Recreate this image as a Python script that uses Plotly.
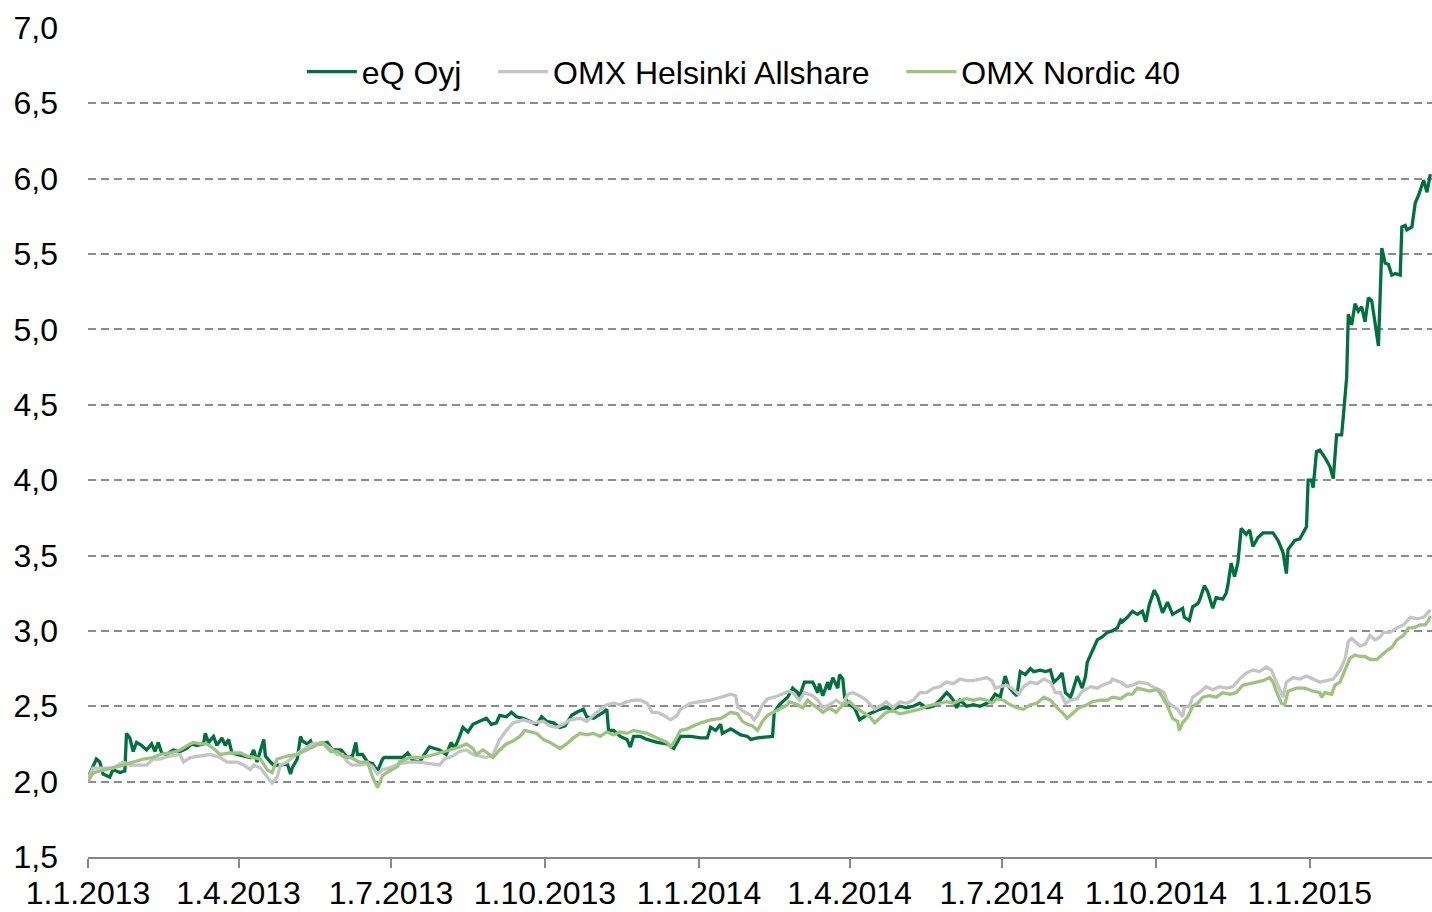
import pandas as pd
import plotly.graph_objects as go

START = "2013-01-01"

# day offsets from 1.1.2013 and index values
eq_day = [0,1,5,7,9,13,15,19,22,23,25,27,29,32,35,38,40,42,44,47,
          51,55,59,62,65,69,70,72,75,77,80,82,84,86,89,93,97,99,101,105,
          106,109,111,115,119,121,122,125,127,128,131,133,134,139,143,146,151,152,155,158,
          160,161,164,167,170,173,176,177,188,191,194,198,204,210,214,217,219,222,224,227,
          230,234,238,241,244,246,250,253,256,260,264,268,271,274,278,282,285,289,292,296,
          298,302,308,310,311,314,318,322,324,326,330,334,340,346,350,354,358,360,366,370,
          372,375,378,379,384,387,390,394,396,400,406,409,410,413,418,421,424,425,428,433,
          436,437,439,442,443,445,448,449,451,452,455,458,461,465,469,473,477,481,485,489,
          493,497,501,505,509,513,515,517,519,521,525,529,533,535,539,542,545,548,550,553,
          555,557,560,563,565,569,572,575,577,580,582,584,587,588,591,594,596,597,600,603,
          606,609,612,615,617,618,621,624,627,630,632,634,637,639,642,645,648,651,654,655,
          658,660,663,664,667,669,672,674,678,680,681,683,685,687,689,692,694,696,699,702,
          708,711,714,716,717,721,724,726,728,729,731,732,734,736,739,742,744,746,749,750,
          752,753,755,757,759,761,763,765,767,769,771,773,775,777,779,781,784,785,787,788,
          791,793,795,798,800,802]
eq_val = [2.00,2.05,2.15,2.13,2.05,2.03,2.08,2.06,2.07,2.32,2.29,2.20,2.26,2.24,2.21,2.25,2.20,2.26,2.19,2.18,
          2.21,2.20,2.22,2.25,2.24,2.25,2.32,2.26,2.30,2.24,2.29,2.24,2.28,2.19,2.18,2.17,2.16,2.21,2.13,2.28,
          2.17,2.13,2.11,2.11,2.12,2.05,2.09,2.15,2.30,2.27,2.25,2.27,2.24,2.25,2.26,2.21,2.21,2.20,2.16,2.17,
          2.26,2.18,2.18,2.13,2.12,2.07,2.15,2.16,2.16,2.19,2.14,2.13,2.23,2.21,2.18,2.26,2.22,2.30,2.36,2.33,
          2.38,2.40,2.42,2.38,2.39,2.44,2.43,2.46,2.43,2.42,2.40,2.38,2.43,2.40,2.39,2.36,2.37,2.44,2.46,2.48,
          2.43,2.42,2.46,2.48,2.34,2.34,2.30,2.28,2.23,2.30,2.30,2.28,2.26,2.25,2.22,2.30,2.30,2.30,2.29,2.29,
          2.36,2.34,2.38,2.32,2.35,2.33,2.31,2.30,2.28,2.29,2.30,2.30,2.46,2.51,2.56,2.62,2.59,2.56,2.66,2.66,
          2.59,2.65,2.57,2.66,2.61,2.69,2.62,2.71,2.68,2.56,2.51,2.49,2.41,2.44,2.46,2.48,2.49,2.48,2.50,2.49,
          2.50,2.52,2.49,2.50,2.54,2.59,2.57,2.54,2.49,2.54,2.50,2.51,2.50,2.51,2.53,2.58,2.56,2.70,2.63,2.59,
          2.57,2.73,2.71,2.75,2.73,2.74,2.73,2.74,2.66,2.69,2.72,2.59,2.56,2.59,2.70,2.62,2.70,2.79,2.86,2.94,
          2.96,2.99,3.00,3.02,3.07,3.06,3.09,3.13,3.11,3.13,3.06,3.17,3.27,3.23,3.12,3.19,3.11,3.13,3.15,3.09,
          3.07,3.16,3.18,3.20,3.30,3.26,3.15,3.22,3.21,3.25,3.30,3.45,3.36,3.45,3.68,3.64,3.67,3.56,3.62,3.65,
          3.65,3.60,3.52,3.38,3.54,3.60,3.61,3.65,3.69,4.00,4.00,3.95,4.19,4.20,4.15,4.09,4.01,4.30,4.30,4.42,
          4.68,5.10,5.03,5.17,5.12,5.15,5.05,5.21,5.19,5.04,4.89,5.54,5.44,5.43,5.36,5.37,5.36,5.68,5.69,5.66,
          5.68,5.84,5.89,5.99,5.91,6.03]

hel_day = [0,3,11,15,21,25,31,35,39,43,49,55,57,61,67,73,79,83,89,93,
           97,99,103,107,110,113,115,119,122,127,131,134,140,145,149,152,155,158,162,167,
           170,173,176,180,186,192,198,204,210,213,218,222,226,230,234,238,242,246,250,254,
           260,266,272,276,280,284,288,294,298,302,306,310,314,318,322,326,330,334,337,340,
           344,348,352,354,360,366,372,378,384,387,388,391,396,398,400,403,406,410,415,419,
           422,425,428,433,436,439,443,447,451,454,457,461,465,468,470,473,477,481,485,489,
           493,497,501,505,509,513,517,521,525,529,533,537,540,542,545,549,553,556,559,563,
           567,571,575,578,581,584,587,591,594,599,603,606,611,612,617,621,624,628,633,636,
           640,643,645,648,651,654,655,658,660,664,668,672,676,680,684,688,692,696,700,704,
           707,710,712,714,716,720,724,728,732,736,740,744,748,751,753,755,758,760,763,766,
           769,772,774,778,782,786,790,794,798,801,802]
hel_val = [2.02,2.09,2.09,2.09,2.13,2.11,2.11,2.11,2.15,2.15,2.17,2.18,2.13,2.16,2.17,2.18,2.16,2.13,2.13,2.11,
           2.08,2.11,2.09,2.03,1.99,2.03,2.11,2.13,2.16,2.20,2.23,2.25,2.26,2.22,2.18,2.18,2.13,2.11,2.11,2.12,
           2.10,2.05,2.08,2.09,2.12,2.13,2.13,2.12,2.11,2.15,2.17,2.20,2.21,2.18,2.17,2.16,2.18,2.28,2.34,2.39,
           2.41,2.39,2.40,2.37,2.36,2.38,2.41,2.42,2.40,2.44,2.48,2.51,2.52,2.51,2.53,2.54,2.54,2.52,2.46,2.46,
           2.44,2.41,2.44,2.48,2.52,2.53,2.54,2.56,2.58,2.57,2.50,2.47,2.44,2.41,2.44,2.51,2.55,2.56,2.58,2.60,
           2.58,2.54,2.59,2.57,2.54,2.49,2.51,2.54,2.51,2.58,2.59,2.57,2.54,2.50,2.48,2.50,2.53,2.49,2.53,2.52,
           2.54,2.59,2.59,2.62,2.63,2.66,2.65,2.68,2.67,2.67,2.68,2.69,2.67,2.62,2.63,2.64,2.61,2.58,2.63,2.66,
           2.65,2.68,2.66,2.59,2.59,2.52,2.54,2.55,2.60,2.63,2.62,2.64,2.66,2.68,2.66,2.63,2.64,2.66,2.65,2.63,
           2.61,2.59,2.53,2.50,2.48,2.43,2.49,2.50,2.56,2.59,2.63,2.61,2.63,2.62,2.63,2.68,2.72,2.74,2.73,2.76,
           2.74,2.66,2.60,2.56,2.66,2.69,2.68,2.70,2.68,2.66,2.67,2.68,2.74,2.81,2.93,2.95,2.92,2.90,2.91,2.97,
           2.94,2.96,2.99,2.99,3.02,3.04,3.09,3.08,3.09,3.13,3.14]

nor_day = [0,3,7,11,15,21,27,33,39,43,49,55,61,63,67,71,75,79,85,91,
           95,99,103,107,110,113,119,125,131,134,140,145,149,152,157,162,167,170,173,176,
           180,185,186,192,198,204,210,216,222,226,230,232,236,240,242,246,250,254,258,261,
           264,268,272,276,282,286,290,294,298,302,306,310,314,318,322,326,330,334,338,342,
           346,348,350,354,358,366,372,378,384,388,391,394,397,400,403,406,410,413,418,419,
           424,427,430,433,436,439,443,447,451,455,459,463,467,470,473,477,481,485,489,493,
           497,501,505,509,513,517,521,525,529,533,537,540,543,547,551,555,559,563,567,571,
           575,579,582,585,588,592,597,600,605,609,612,617,621,624,627,630,634,639,642,645,
           648,651,652,654,657,660,663,666,670,674,678,682,686,690,694,698,702,706,708,710,
           713,715,717,722,727,732,736,737,739,743,745,748,751,754,757,760,763,766,770,773,
           776,779,782,786,789,792,796,799,801,802]
nor_val = [2.00,2.06,2.07,2.08,2.09,2.11,2.13,2.15,2.16,2.18,2.19,2.21,2.25,2.26,2.25,2.25,2.22,2.18,2.19,2.19,
           2.17,2.16,2.15,2.08,2.06,2.15,2.17,2.18,2.21,2.23,2.26,2.20,2.20,2.17,2.16,2.13,2.13,2.03,1.96,2.04,
           2.07,2.10,2.13,2.16,2.16,2.17,2.19,2.21,2.23,2.25,2.22,2.18,2.21,2.18,2.16,2.21,2.25,2.27,2.30,2.34,
           2.33,2.32,2.28,2.26,2.22,2.25,2.29,2.32,2.31,2.32,2.30,2.33,2.31,2.33,2.32,2.34,2.33,2.32,2.30,2.28,
           2.26,2.23,2.26,2.34,2.35,2.39,2.41,2.42,2.46,2.45,2.40,2.38,2.37,2.34,2.40,2.44,2.46,2.48,2.51,2.53,
           2.51,2.49,2.54,2.51,2.49,2.46,2.49,2.46,2.51,2.53,2.49,2.46,2.43,2.39,2.42,2.46,2.47,2.45,2.46,2.47,
           2.48,2.50,2.51,2.52,2.53,2.52,2.54,2.55,2.54,2.55,2.54,2.52,2.55,2.54,2.51,2.49,2.48,2.51,2.52,2.56,
           2.54,2.49,2.46,2.42,2.45,2.49,2.51,2.53,2.54,2.54,2.56,2.55,2.58,2.58,2.62,2.61,2.60,2.61,2.56,2.50,
           2.42,2.40,2.34,2.39,2.43,2.50,2.52,2.56,2.57,2.56,2.59,2.58,2.59,2.64,2.65,2.66,2.67,2.69,2.66,2.60,
           2.52,2.51,2.60,2.62,2.62,2.60,2.59,2.56,2.59,2.58,2.64,2.66,2.74,2.82,2.84,2.83,2.83,2.81,2.81,2.84,
           2.87,2.89,2.94,2.97,3.02,3.02,3.04,3.04,3.07,3.10]

series_names = ["eQ Oyj\u00a0\u00a0\u00a0", "OMX Helsinki Allshare\u00a0\u00a0\u00a0", "OMX Nordic 40"]
series_colors = ["#00703C", "#C4C4C4", "#9CC47F"]

tick_dates = ["2013-01-01", "2013-04-01", "2013-07-01", "2013-10-01", "2014-01-01",
              "2014-04-01", "2014-07-01", "2014-10-01", "2015-01-01"]
tick_labels = ["1.1.2013", "1.4.2013", "1.7.2013", "1.10.2013", "1.1.2014",
               "1.4.2014", "1.7.2014", "1.10.2014", "1.1.2015"]
x_range = ["2013-01-01", "2015-03-15"]
y_range = [1.5, 7.006]

assert len(eq_day) == len(eq_val)
assert len(hel_day) == len(hel_val)
assert len(nor_day) == len(nor_val)


def to_dates(days):
    return pd.Timestamp(START) + pd.to_timedelta(days, unit="D")


fig = go.Figure()
for name, color, days, vals in zip(series_names, series_colors,
                                   [eq_day, hel_day, nor_day],
                                   [eq_val, hel_val, nor_val]):
    fig.add_trace(go.Scatter(x=to_dates(days), y=vals, mode="lines", name=name,
                             line=dict(color=color, width=3.3), hoverinfo="skip"))

FS = 32
font_family = "Liberation Sans, Arial, sans-serif"
fig.update_layout(
    width=1432, height=912,
    margin=dict(l=88, r=0, t=27, b=55, autoexpand=False),
    paper_bgcolor="white", plot_bgcolor="white",
    separators=",.",
    font=dict(family=font_family, size=FS, color="black"),
    showlegend=True,
    legend=dict(orientation="h", x=0.488, xanchor="center", y=0.946, yanchor="middle",
                bgcolor="rgba(0,0,0,0)", font=dict(size=FS), itemwidth=50,
                tracegroupgap=0),
    xaxis=dict(type="date", range=x_range, tickvals=tick_dates, ticktext=tick_labels,
               showgrid=False, zeroline=False, showline=True, linecolor="#878787",
               linewidth=2, ticks="outside", ticklen=9, tickwidth=1.5, tickcolor="#878787",
               tickfont=dict(size=FS), ticklabelstandoff=-2, automargin=False),
    xaxis2=dict(type="date", range=x_range, overlaying="x", anchor="y", side="bottom",
                tickvals=tick_dates, showticklabels=False, showgrid=False, zeroline=False,
                showline=False, ticks="inside", ticklen=9, tickwidth=1.5, tickcolor="#878787",
                automargin=False),
    yaxis=dict(range=y_range, dtick=0.5, tick0=1.5, tickformat=".1f", showgrid=True,
               gridcolor="#8C8C8C", gridwidth=2, griddash="8px,5px", zeroline=False,
               showline=False, ticks="", ticklabelstandoff=29, tickfont=dict(size=FS),
               automargin=False),
)

fig.write_html("out.html", config={"displayModeBar": False},
               post_script="document.body.style.margin='0';document.body.style.overflow='hidden';")
